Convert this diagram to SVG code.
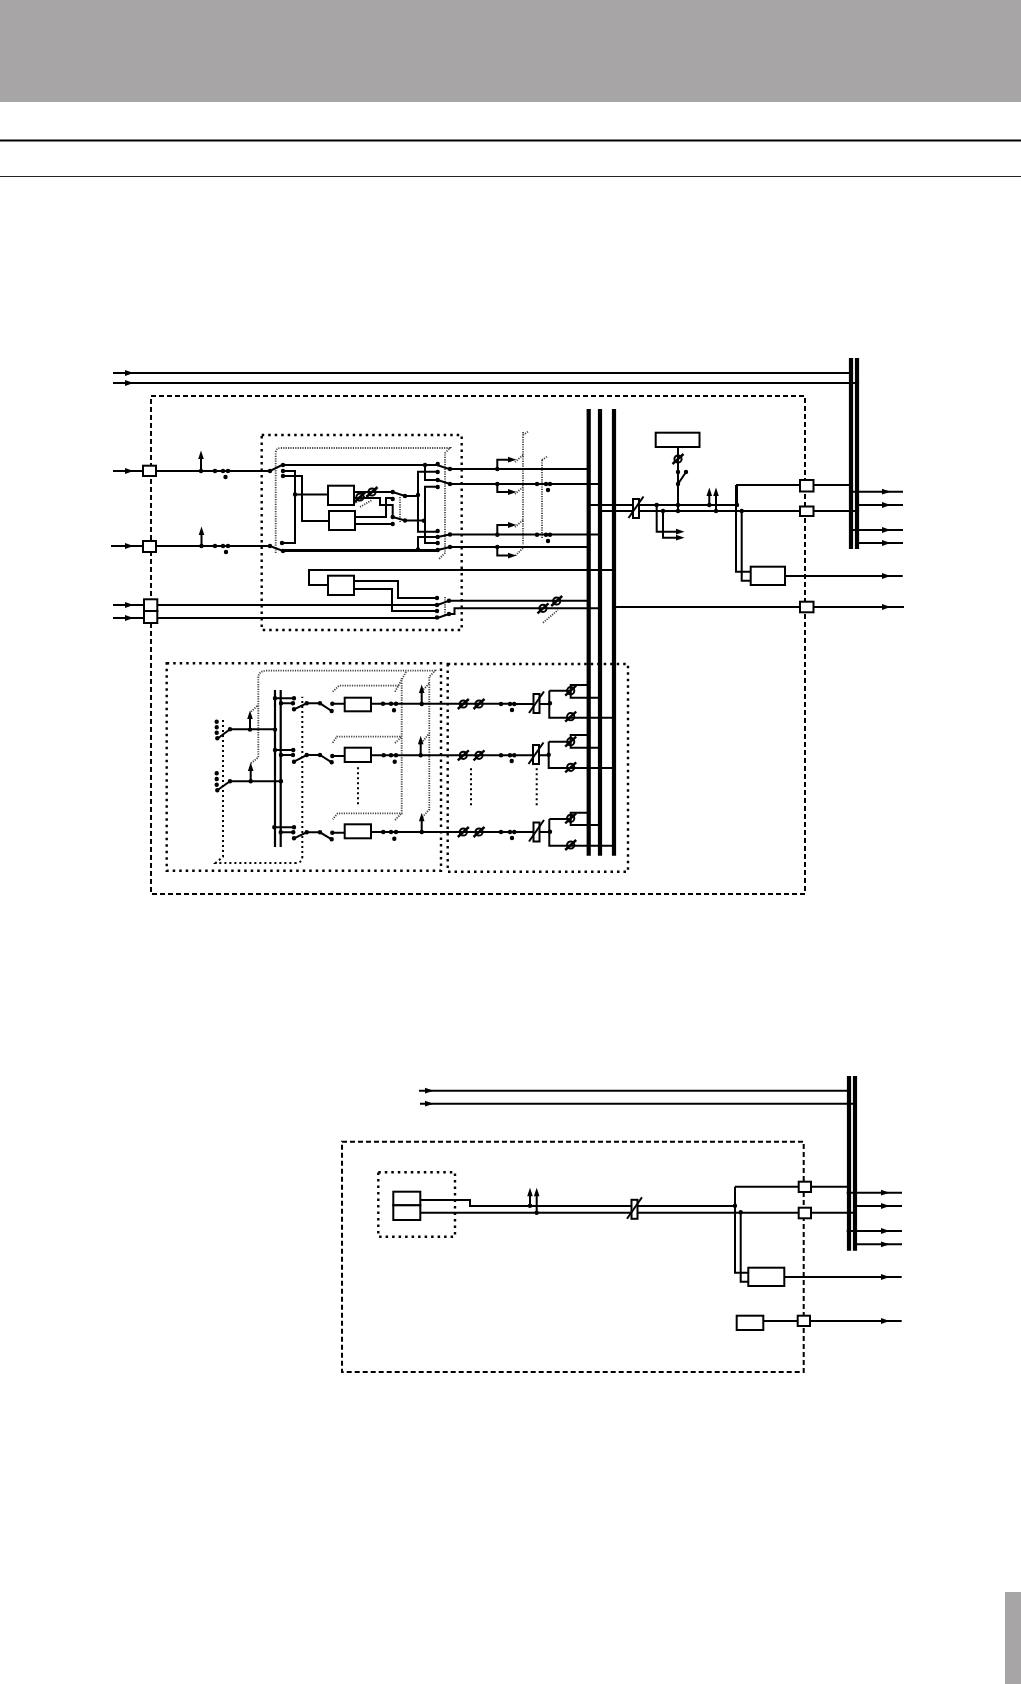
<svg xmlns="http://www.w3.org/2000/svg" xmlns:xlink="http://www.w3.org/1999/xlink" width="1021" height="1684" viewBox="0 0 1021 1684">
<style>
.w{fill:none;stroke:#000;stroke-width:2}
.b{fill:none;stroke:#000;stroke-width:4.2}
.d{fill:none;stroke:#000;stroke-width:4.4;stroke-linecap:round}
.n{fill:#fff;stroke:#000;stroke-width:2}
.o{fill:none;stroke:#000;stroke-width:2;stroke-dasharray:5 3}
.f{fill:none;stroke:#000;stroke-width:2.4;stroke-dasharray:2.5 4}
.g{fill:none;stroke:#444;stroke-width:1.8;stroke-dasharray:1.2 1.2}
.k{fill:none;stroke:#000;stroke-width:2;stroke-dasharray:2 3}
</style>
<defs>
<path id="ar" d="M-7-2.9L1.500 0L-7 2.900Z"/>
<path id="au" d="M-2.800 7L0-1.500L2.800 7Z"/>
<g id="pot"><circle r="3.6" fill="none" stroke="#000" stroke-width="2"/><path d="M-5.500 5L5.500-5" stroke="#000" stroke-width="2.400" fill="none"/></g>
<g id="vca"><rect x="-3" y="-9.500" width="6" height="19" fill="#fff" stroke="#000" stroke-width="2"/><path d="M-7.500 9.500L7.500-12" stroke="#000" stroke-width="2" fill="none"/></g>
</defs>
<g id="page">
<rect x="0" y="0" width="1021" height="102" fill="#a7a5a6"/>
<rect x="0" y="139.500" width="1021" height="2" fill="#000"/>
<rect x="0" y="176" width="1021" height="1" fill="#222"/>
<rect x="1005" y="1592" width="16" height="92" fill="#a7a5a6"/>
</g>
<g id="frames">
<rect id="frame-top" class="o" x="151" y="396" width="654" height="498"/>
<rect id="frame-link" class="f" x="261.700" y="435" width="200" height="195"/>
<rect id="frame-sends" class="f" x="166.700" y="663.300" width="274.300" height="207.400"/>
<rect id="frame-groups" class="f" x="447.700" y="664" width="180.300" height="207.700"/>
<rect id="frame-bottom" class="o" x="342" y="1141.700" width="461.700" height="230.300"/>
<rect id="frame-src" class="f" x="378.300" y="1172.300" width="76.700" height="64.400"/>
</g>
<g id="gangs">
<path class="g" d="M275.700 553V453Q275.700 448 281 448H450L445 453V553L439 559"/>
<path class="g" d="M400 497V522M523 432V545M523 435L529 431M523 455L515 462M523 487L515 494M523 520L515 527M523 548L515 556M542 460V538M542 460L548 456"/>
<path class="g" d="M352 505L378 488M360 507L372 500M445 597V615M543 622.700L558 610"/>
<path class="k" d="M223 720V856.700L215.700 863H295Q302.300 863 302.300 856.700V696.700"/>
<path class="g" d="M251 763.300L258.300 757.300V678Q258.300 670.700 266.700 670.700H435L429.300 676.700V809.300L420 820M251 711.700L258.300 705M420 693L429.300 683.300M420 745L429.300 733.300"/>
<path class="g" d="M332.700 691.700L339 685.700H400M395 691.700L406.700 670.700M401.700 678V813.300H337.700L332.700 819.300M332.700 742.700L336.700 736.700H401.700M395 743L401.700 736.700M395 820L401.700 813.300"/>
<path class="k" d="M358 767.300V805M471 768.300V806M536.700 768.300V806"/>
</g>
<g id="connectors">
<path class="b" d="M851 358V549M857 358V549M588.700 409V855.700M600 409V855.700M614 409V855.700M849 1076V1250.700M855 1076V1250.700"/>
<path class="w" d="M113 373H851M113 383H857"/>
<path class="w" d="M113 471H270L282 465H437L449 469H590M111 546H270L283 551H437"/>
<path class="w" d="M201 471V455M201.500 546V531"/>
<path class="w" d="M283 471H295V543H282M295 494.500H328M283 476H302V521H329"/>
<path class="w" d="M354 492H392.700L405 496H418M354 498H380V505H392.700V517L405 520.500H425M355 517H386V498H392.700M355 524H392.700"/>
<path class="w" d="M418 549.500V537H437.700L449.500 534.500H600M418 495V471.700H437.700M418 495V531.700H437.700M425 465V480H437.700L450 484H600M425 520.700V486.700H437.700M425 487V543H437.700M437.700 550L450 547H590M283 550H437.700"/>
<path class="w" d="M497.300 469V459.700H512M497.300 484V492H512M497.300 534.700V525H512M497.300 547V555.600H512"/>
<path class="w" d="M614 570H309V585H328M354 581H398V598H437M354 589H392V611H437"/>
<path class="w" d="M113 605H437.500L449 600.700H590M113 618H437.500L449 614H454.500V608.300H600"/>
<path class="w" d="M588.700 505H737M600 511H857M678 447V484L686 472M678 484V511M709.300 505V492M716 511V492M656.700 505V531.700H680M663 511V537.700H680"/>
<path class="w" d="M737 505V485H851M736 485V571.700H750.700M741.700 511V580.700H750.700M785 576H902.700M614 607H904M851 491.700H903M857 505H903M851 530H903M857 543H903"/>
<path class="w" d="M217.300 738.700L230 729.300H275M217.300 790.300L230 781.300H281M250 729.600V715M250.700 781.300V767M275 698.300H294M281 703.300H293M275 750H293.300M281 755H293M274.300 827.300H294M280.700 832.300H293.300"/>
<path class="b" style="stroke-width:2.200" d="M275 690V847M280.700 690V847"/>
<path class="w" d="M294 709.300L306.700 703.300H320L331.700 711M332.300 703.700H344.700M371 703.700H514M421.700 704V689"/>
<path class="w" d="M294 761.700L306.700 755H320L331.700 762.300M332.300 756H344.700M371 755.300H514M420.700 755V740"/>
<path class="w" d="M294 838.300L306.700 832.300H320L331.700 839.300M332.300 832.700H344.700M371 832H514M421.700 832V817"/>
<path class="w" d="M514 704H550M549.300 690.700V717.700H616M549.300 690.700H570.700V685H588.700M570.700 690.700V697.700H600"/>
<path class="w" d="M514 755.300H548.700M548.700 741.700V768H616M548.700 741.700H570.700V735H588.700M570.700 741.700V747.700H600"/>
<path class="w" d="M514 832H550M549.300 819V845.700H616M549.300 819H570.700V812.700H588.700M570.700 819V825H600"/>
<path class="w" d="M419 1090.700H849M420 1103.700H855"/>
<path class="w" d="M420.300 1200H470V1205.900H735M420.300 1212.700H798M530 1205.700V1192M536.700 1212.700V1192M735 1186.700V1272.700H748.300M735 1186.700H849M811 1212.700H855M740.700 1212.300V1281.700H748.300M784.300 1277H901.700M763.300 1321H901.700M846.700 1192.700H902M855 1206H902M846.700 1231H902M855 1244.300H902"/>
<g id="arrowheads">
<use xlink:href="#ar" x="132" y="373"/><use xlink:href="#ar" x="132" y="383"/><use xlink:href="#ar" x="132" y="471"/><use xlink:href="#ar" x="132" y="546"/><use xlink:href="#ar" x="132" y="605"/><use xlink:href="#ar" x="132" y="618"/>
<use xlink:href="#ar" x="515" y="459.700"/><use xlink:href="#ar" x="515" y="492"/><use xlink:href="#ar" x="515" y="525"/><use xlink:href="#ar" x="515" y="555.600"/>
<use xlink:href="#ar" x="683" y="531.700"/><use xlink:href="#ar" x="683" y="537.700"/>
<use xlink:href="#ar" x="889" y="491.700"/><use xlink:href="#ar" x="889" y="505"/><use xlink:href="#ar" x="889" y="530"/><use xlink:href="#ar" x="889" y="543"/><use xlink:href="#ar" x="889" y="576"/><use xlink:href="#ar" x="889" y="607"/>
<use xlink:href="#ar" x="432" y="1090.700"/><use xlink:href="#ar" x="432" y="1103.700"/>
<use xlink:href="#ar" x="888" y="1192.700"/><use xlink:href="#ar" x="888" y="1206"/><use xlink:href="#ar" x="888" y="1231"/><use xlink:href="#ar" x="888" y="1244.300"/><use xlink:href="#ar" x="888" y="1277"/><use xlink:href="#ar" x="888" y="1321"/>
<use xlink:href="#au" x="201" y="452"/><use xlink:href="#au" x="201.500" y="528"/><use xlink:href="#au" x="709.300" y="489"/><use xlink:href="#au" x="716" y="489"/>
<use xlink:href="#au" x="250" y="712"/><use xlink:href="#au" x="250.700" y="764"/><use xlink:href="#au" x="421.700" y="686"/><use xlink:href="#au" x="420.700" y="737.300"/><use xlink:href="#au" x="421.700" y="814.300"/>
<use xlink:href="#au" x="530" y="1189.300"/><use xlink:href="#au" x="536.700" y="1189.300"/>
</g>
<g id="pots">
<use xlink:href="#pot" x="360" y="497"/><use xlink:href="#pot" x="372" y="492"/>
<use xlink:href="#pot" x="543" y="608.300"/><use xlink:href="#pot" x="556.700" y="601"/>
<use xlink:href="#pot" x="678" y="459"/>
<use xlink:href="#pot" x="463.300" y="704"/><use xlink:href="#pot" x="479" y="704"/><use xlink:href="#pot" x="463.300" y="755.300"/><use xlink:href="#pot" x="479" y="755.300"/><use xlink:href="#pot" x="463.300" y="832"/><use xlink:href="#pot" x="479" y="832"/>
<use xlink:href="#pot" x="570.700" y="690.700"/><use xlink:href="#pot" x="570.700" y="716.700"/><use xlink:href="#pot" x="570.700" y="741.700"/><use xlink:href="#pot" x="570.700" y="767.300"/><use xlink:href="#pot" x="570.700" y="818.300"/><use xlink:href="#pot" x="570.700" y="845"/>
</g>
<g id="faders">
<use xlink:href="#vca" x="636" y="508.500"/>
<use xlink:href="#vca" x="536.500" y="703.500"/><use xlink:href="#vca" x="536" y="754.500"/><use xlink:href="#vca" x="536.500" y="832"/>
<use xlink:href="#vca" x="634.500" y="1209.300"/>
</g>
<path class="d" d="M215 471h0M223 471h0M228 471h0M225.500 477h0M201 471h0M201.500 546h0M215 546h0M223 546h0M228 546h0M226 552h0M270 471h0M283 465h0M283 471h0M283 476h0M270 546h0M283 551h0M282 543h0M295 494.500h0M392.700 492h0M392.700 499h0M405 496h0M392.700 517h0M392.700 524h0M405 520.500h0M418 495h0M424 520.700h0M425 465h0M418 549.500h0M437.700 464h0M437.700 472h0M450 469h0M437.700 480h0M437.700 487h0M450 484h0M437.700 531h0M437.700 537h0M450 534.500h0M437.700 543h0M437.700 550h0M450 547h0M497.300 469h0M497.300 484h0M497.300 534.700h0M497.300 547h0M537 484h0M546 484h0M550 484h0M548 490h0M537 534.700h0M546 534.700h0M550 534.700h0M548 541h0M437 598h0M437 605h0M449 600.700h0M437 611h0M437 617.500h0M449 614h0M656.700 505h0M663 511h0M678 505h0M678 511h0M678 472h0M678 484h0M686 472h0M709.300 505h0M716 511h0M737 505h0M741.700 511h0M851 485h0M857 511h0M851 373h0M857 383h0"/>
<path class="d" d="M216.700 721.700h0M216.700 727.300h0M216.700 732.700h0M217.300 738.300h0M230 729.300h0M216.700 773.300h0M216.700 779h0M216.700 784.700h0M217.300 790.300h0M230 781.300h0M250 729.600h0M250.700 781.300h0M275 729.600h0M281 781.300h0M275 698.300h0M294 698.300h0M281 703.300h0M293 703.300h0M294 709.300h0M306.700 703.300h0M320 703.300h0M331.700 711h0M332.300 703.700h0M383 703.700h0M391 703.700h0M396 703.700h0M394 710.300h0M421.700 704h0M275 750h0M293.300 750h0M281 755h0M293 755h0M294 761.700h0M306.700 755h0M320 755h0M331.700 762.300h0M332.300 756h0M383.700 755.300h0M391 755.300h0M396 755.300h0M394.700 761.700h0M420.700 755.300h0M274.300 827.300h0M294 827.300h0M280.700 832.300h0M293.300 832.300h0M294 838.300h0M306.700 832.300h0M320 832.300h0M331.700 839.300h0M332.300 832.700h0M383.300 832h0M391 832h0M396 832h0M394.300 838.700h0M421.700 832h0M501 704h0M510 704h0M514.300 704h0M512 710h0M550 703.300h0M501 755.300h0M510 755.300h0M514.300 755.300h0M511.700 761h0M548.700 754.700h0M501 832h0M510 832h0M514.300 832h0M512 838h0M550 831.700h0M530 1205.700h0M536.700 1212.700h0M735 1205.700h0M740.700 1212.300h0"/>
</g>
<g id="node-in1"><rect class="n" x="143" y="465.700" width="13" height="10.300"/></g>
<g id="node-in2"><rect class="n" x="143" y="541" width="13" height="11"/></g>
<g id="node-in3"><rect class="n" x="144" y="599.300" width="13.300" height="11.700"/></g>
<g id="node-in4"><rect class="n" x="144" y="611" width="13.300" height="12"/></g>
<g id="node-proc1"><rect class="n" x="328" y="485.700" width="26" height="19.300"/></g>
<g id="node-proc2"><rect class="n" x="329" y="511" width="26" height="19"/></g>
<g id="node-proc3"><rect class="n" x="328" y="575.700" width="26" height="19.300"/></g>
<g id="node-top"><rect class="n" x="655.700" y="432.700" width="43.800" height="14.300"/></g>
<g id="node-out1"><rect class="n" x="800" y="480" width="13.500" height="11.500"/></g>
<g id="node-out2"><rect class="n" x="800" y="506.500" width="13.500" height="9.500"/></g>
<g id="node-mono"><rect class="n" x="750.700" y="566.700" width="34.300" height="18.300"/></g>
<g id="node-out3"><rect class="n" x="800" y="601.700" width="13.500" height="10.600"/></g>
<g id="node-send1"><rect class="n" x="344.700" y="697.700" width="26.300" height="13.600"/></g>
<g id="node-send2"><rect class="n" x="344.700" y="747.700" width="26.300" height="14.300"/></g>
<g id="node-send3"><rect class="n" x="344.700" y="824.300" width="26.300" height="14"/></g>
<g id="node-src1"><rect class="n" x="393.300" y="1191.700" width="27" height="13.600"/></g>
<g id="node-src2"><rect class="n" x="393.300" y="1205.300" width="27" height="14.700"/></g>
<g id="node-bout1"><rect class="n" x="798.700" y="1181.700" width="12.300" height="10.300"/></g>
<g id="node-bout2"><rect class="n" x="798.700" y="1207.700" width="12.300" height="10.600"/></g>
<g id="node-bmono"><rect class="n" x="748.300" y="1267.700" width="36" height="18.300"/></g>
<g id="node-bsmall"><rect class="n" x="736.700" y="1315.700" width="26.600" height="14.300"/></g>
<g id="node-bout3"><rect class="n" x="797.700" y="1315.700" width="12.300" height="10.300"/></g>
</svg>
